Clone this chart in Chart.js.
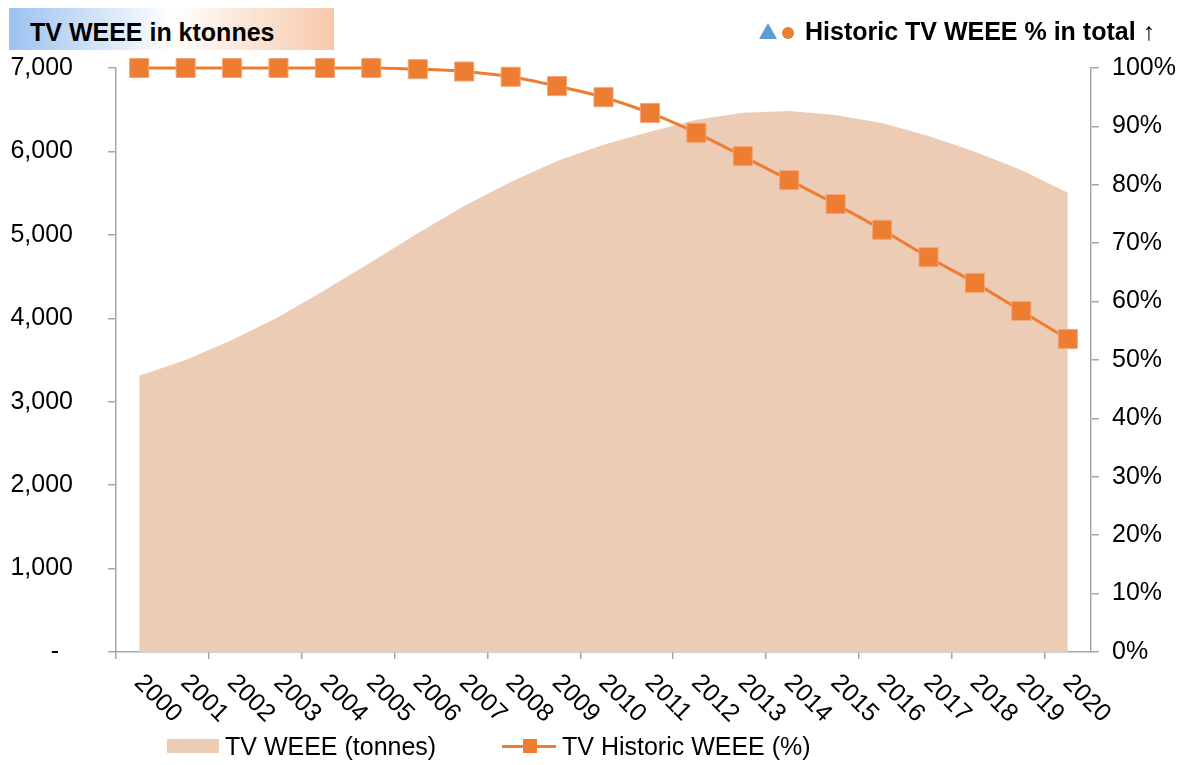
<!DOCTYPE html>
<html>
<head>
<meta charset="utf-8">
<script src="https://cdn.jsdelivr.net/npm/chart.js@4"></script>
<style>
  body { margin: 0; background: #fff; font-family: "Liberation Sans", Arial, sans-serif; }
  .wrap { position: relative; width: 1187px; height: 765px; }
  canvas { position: absolute; left: 0; top: 0; }
  .abs { position: absolute; white-space: nowrap; color: #000; }
  .titleBox { left: 9px; top: 8px; width: 325px; height: 42px;
    background: linear-gradient(to right, #9cc2f0 0%, #ffffff 50%, #f7c9ab 100%); }
  .title { left: 30px; top: 17px; font-size: 25px; line-height: 30px; font-weight: bold; }
  .note { left: 805px; top: 16px; font-size: 25px; line-height: 30px; font-weight: bold; }
  .tri { left: 759px; top: 23px; width: 18px; height: 16px; background: #5b9bd5;
    clip-path: polygon(50% 0, 100% 100%, 0 100%); }
  .dot { left: 782px; top: 27px; width: 12px; height: 12px; border-radius: 50%; background: #ed7d31; }
  .leg { top: 732px; font-size: 25px; line-height: 29px; }
</style>
</head>
<body>
<div class="wrap">
  <canvas id="myChart" width="1187" height="765"></canvas>
  <div class="abs titleBox"></div>
  <div class="abs title">TV WEEE in ktonnes</div>
  <div class="abs tri"></div>
  <div class="abs dot"></div>
  <div class="abs note">Historic TV WEEE % in total ↑</div>
  <div class="abs" style="left:167px;top:739px;width:52px;height:14px;background:#edccb5"></div>
  <div class="abs leg" style="left:225px">TV WEEE (tonnes)</div>
  <div class="abs" style="left:502px;top:745px;width:54px;height:3px;background:#ed7d31"></div>
  <div class="abs" style="left:523px;top:739px;width:14px;height:14px;background:#ed7d31"></div>
  <div class="abs leg" style="left:562px">TV Historic WEEE (%)</div>
</div>
<script>
const years = ['2000', '2001', '2002', '2003', '2004', '2005', '2006', '2007', '2008', '2009', '2010',
  '2011', '2012', '2013', '2014', '2015', '2016', '2017', '2018', '2019', '2020'];
const tvWeee = [3310, 3500, 3740, 4015, 4340, 4675, 5020, 5345, 5635, 5885, 6080,
  6235, 6380, 6464, 6485, 6437, 6340, 6185, 5995, 5777, 5505];
const historicPct = [100, 100, 100, 100, 100, 100, 99.8, 99.4, 98.5, 96.9, 95.0,
  92.3, 88.9, 84.9, 80.8, 76.7, 72.3, 67.6, 63.2, 58.4, 53.6];

const axisGrey = '#a6a6a6';
const font25 = { family: '"Liberation Sans", Arial, sans-serif', size: 25 };

// rotated year labels (clockwise, reading down to the right)
const yearLabels = {
  id: 'yearLabels',
  afterDraw(chart) {
    const c = chart.ctx;
    const xs = chart.scales.x;
    c.save();
    c.font = '25px "Liberation Sans", Arial, sans-serif';
    c.fillStyle = '#000';
    c.textAlign = 'left';
    c.textBaseline = 'middle';
    years.forEach((y, i) => {
      c.save();
      c.translate(xs.getPixelForTick(i) - 1, 679);
      c.rotate(Math.PI / 4);
      c.fillText(y, 0, 0);
      c.restore();
    });
    c.restore();
  }
};

new Chart(document.getElementById('myChart'), {
  type: 'line',
  data: {
    labels: years,
    datasets: [{
      label: 'TV Historic WEEE (%)',
      data: historicPct,
      yAxisID: 'y2',
      borderColor: '#ed7d31',
      borderWidth: 3,
      backgroundColor: '#ed7d31',
      pointStyle: 'rect',
      pointRadius: 13.5,
      pointBorderColor: '#f3a67a',
      pointBorderWidth: 1,
      cubicInterpolationMode: 'monotone',
      clip: false,
      order: 0
    }, {
      label: 'TV WEEE (tonnes)',
      data: tvWeee,
      yAxisID: 'y',
      fill: 'origin',
      backgroundColor: '#edccb5',
      borderWidth: 0,
      pointRadius: 0,
      tension: 0,
      order: 1
    }]
  },
  options: {
    responsive: false,
    animation: false,
    layout: { padding: { top: 68, left: 0, right: 0, bottom: 0 } },
    plugins: { legend: { display: false }, tooltip: { enabled: false } },
    scales: {
      x: {
        offset: true,
        grid: {
          offset: true,
          drawOnChartArea: false,
          tickLength: 7,
          lineWidth: 1.5,
          tickColor: ctx => ctx.index % 2 === 0 ? axisGrey : 'rgba(0,0,0,0)'
        },
        border: { color: axisGrey, width: 1.5 },
        ticks: { display: false },
        afterFit(s) { s.height = 113; }
      },
      y: {
        position: 'left',
        min: 0,
        max: 7000,
        grid: { drawOnChartArea: false, tickLength: 8, color: axisGrey, lineWidth: 1.5 },
        border: { color: axisGrey, width: 1.5 },
        ticks: {
          stepSize: 1000,
          padding: 35,
          color: '#000',
          font: font25,
          callback: v => v === 0 ? '-  ' : v.toLocaleString('en-US')
        },
        afterFit(s) { s.width = 116; }
      },
      y2: {
        position: 'right',
        min: 0,
        max: 100,
        grid: { drawOnChartArea: false, tickLength: 8, color: axisGrey, lineWidth: 1.5 },
        border: { color: axisGrey, width: 1.5 },
        ticks: { stepSize: 10, padding: 13, color: '#000', font: font25, callback: v => v + '%' },
        afterFit(s) { s.width = 96; }
      }
    }
  },
  plugins: [yearLabels]
});
</script>
</body>
</html>
